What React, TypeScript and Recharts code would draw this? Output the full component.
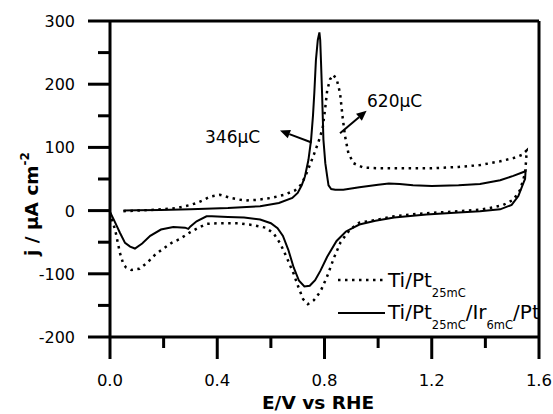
import React from "react";
import {
  LineChart,
  Line,
  XAxis,
  YAxis,
  ReferenceLine,
  Customized,
} from "recharts";

// potential (V vs RHE) and current density (µA cm-2)
// Ti/Pt25mC/Ir6mC/Pt (solid)
const solidAnodicE = [
  0.05, 0.1, 0.19, 0.3, 0.44, 0.56, 0.63, 0.68, 0.7, 0.715, 0.727, 0.74, 0.75,
  0.757, 0.762, 0.768, 0.775, 0.781, 0.784, 0.787, 0.791, 0.796, 0.803, 0.81,
  0.815, 0.825, 0.84, 0.87, 0.93, 1.0, 1.04, 1.08, 1.13, 1.2, 1.3, 1.38, 1.455,
  1.504, 1.542, 1.55,
];
const solidAnodicJ = [
  0, 0.5, 1, 2, 4, 7, 12, 20, 28, 40, 54, 80, 112, 150, 186, 238, 270, 282,
  270, 235, 185, 112, 75, 54, 40, 34, 33, 33, 37, 41, 43, 42, 40, 39, 40, 42,
  48, 55, 61, 63,
];
const solidCathodicE = [
  1.548, 1.542, 1.523, 1.498, 1.455, 1.38, 1.3, 1.18, 1.06, 0.99, 0.93, 0.88,
  0.845, 0.81, 0.785, 0.765, 0.745, 0.725, 0.705, 0.685, 0.665, 0.645, 0.625,
  0.6, 0.56, 0.5, 0.44, 0.38, 0.36, 0.323, 0.3, 0.292, 0.28, 0.236, 0.19, 0.15,
  0.12, 0.093, 0.075, 0.056, 0.037, 0.015, 0.0,
];
const solidCathodicJ = [
  50, 44, 23, 9, 2, -1, -3, -6, -11, -16, -22, -33, -48, -73, -95, -110, -119,
  -120, -111, -90, -62, -40, -28, -20, -14, -11, -10, -9, -9, -17, -25, -29,
  -27, -26, -30, -40, -52, -60, -57, -51, -35, -15, -2,
];

// Ti/Pt25mC (dotted)
const dottedAnodicE = [
  0.05, 0.15, 0.249, 0.3, 0.323, 0.35, 0.373, 0.41, 0.45, 0.5, 0.55, 0.6, 0.65,
  0.69, 0.715, 0.736, 0.758, 0.777, 0.793, 0.802, 0.81, 0.821, 0.833, 0.846,
  0.858, 0.868, 0.877, 0.889, 0.908, 0.945, 1.0, 1.1, 1.2, 1.3, 1.38, 1.455,
  1.504, 1.536, 1.554,
];
const dottedAnodicJ = [
  -1, 1, 4, 9, 12, 17, 22, 25, 20, 16, 17, 20, 25, 32, 42, 62, 86, 108, 130,
  160, 190, 208, 215, 207, 186, 146, 117, 91, 75, 68, 67, 67, 67, 69, 72, 78,
  83, 88, 95,
];
const dottedCathodicE = [
  1.552, 1.548, 1.53, 1.504, 1.467, 1.417, 1.38, 1.3, 1.15, 1.06, 0.99, 0.93,
  0.895, 0.86, 0.835, 0.81, 0.785, 0.76, 0.738, 0.72, 0.7, 0.685, 0.66, 0.635,
  0.61, 0.58, 0.535, 0.48, 0.4, 0.36, 0.33, 0.3, 0.26, 0.23, 0.2, 0.17, 0.14,
  0.11, 0.08, 0.06, 0.05, 0.037, 0.02, 0.006, 0.0,
];
const dottedCathodicJ = [
  80, 59, 33, 17, 9, 4, 1.5, -1, -5, -9, -15, -19, -30, -50, -75, -104, -128,
  -142, -148, -140, -118, -100, -75, -52, -36, -27, -23, -20, -20, -21, -27,
  -34, -45, -51, -60, -69, -82, -92, -94, -90, -85, -67, -32, -12, -4,
];

const xTicks = [0, 0.2, 0.4, 0.6, 0.8, 1.0, 1.2, 1.4, 1.6];
const yTicks = [-200, -150, -100, -50, 0, 50, 100, 150, 200, 250, 300];

const toRows = (e: number[], j: number[]) => e.map((E, i) => ({ E, j: j[i] }));

const solidData = [
  ...toRows(solidAnodicE, solidAnodicJ),
  ...toRows(solidCathodicE, solidCathodicJ),
];
const dottedData = [
  ...toRows(dottedAnodicE, dottedAnodicJ),
  ...toRows(dottedCathodicE, dottedCathodicJ),
];

const FONT = "'DejaVu Sans', sans-serif";
const AXIS_W = 3;

const XTick = ({ x, y, payload }: any) => {
  const v = payload.value as number;
  const major = Math.round(v * 10) % 4 === 0;
  return (
    <g>
      <line x1={x} y1={y} x2={x} y2={y + (major ? 22 : 11)} stroke="#000" strokeOpacity={1} strokeWidth={AXIS_W} />
      {major && (
        <text x={x} y={y + 49} textAnchor="middle" fontSize={16.5} fill="#000" stroke="none" fontFamily={FONT}>
          {v.toFixed(1)}
        </text>
      )}
    </g>
  );
};

const YTick = ({ x, y, payload }: any) => {
  const v = payload.value as number;
  const major = v % 100 === 0;
  return (
    <g>
      <line x1={x - (major ? 22 : 12)} y1={y} x2={x} y2={y} stroke="#000" strokeOpacity={1} strokeWidth={AXIS_W} />
      {major && (
        <text x={x - 35} y={y + 6} textAnchor="end" fontSize={16} fill="#000" stroke="none" fontFamily={FONT}>
          {v}
        </text>
      )}
    </g>
  );
};

// line with a filled arrow head at the (x2, y2) end
const Arrow = (props: any) => {
  const { x1, y1, x2, y2 } = props;
  const a = Math.atan2(y2 - y1, x2 - x1);
  const L = 10;
  const W = 4.5;
  const bx = x2 - L * Math.cos(a);
  const by = y2 - L * Math.sin(a);
  const px = -Math.sin(a) * W;
  const py = Math.cos(a) * W;
  return (
    <g>
      <line x1={x1} y1={y1} x2={bx} y2={by} stroke="#000" strokeWidth={2} />
      <polygon points={`${x2},${y2} ${bx + px},${by + py} ${bx - px},${by - py}`} fill="#000" />
    </g>
  );
};

const Overlay = () => (
  <g fontFamily={FONT} fill="#000">
    {/* axis titles */}
    <text x={318} y={409} textAnchor="middle" fontSize={18.5} fontWeight="bold">
      E/V vs RHE
    </text>
    <text transform="translate(38,204) rotate(-90)" textAnchor="middle" fontSize={18.5} fontWeight="bold">
      j / µA cm
      <tspan fontSize={12} dy={-9}>-2</tspan>
    </text>

    {/* annotations */}
    <text x={205} y={143} fontSize={17}>346µC</text>
    <text x={367} y={107} fontSize={17}>620µC</text>

    {/* legend */}
    <line x1={338} y1={280} x2={385} y2={280} stroke="#000" strokeWidth={2.5} strokeDasharray="2.5 4.5" />
    <text x={388} y={287} fontSize={20}>
      Ti/Pt<tspan fontSize={11.5} dy={10}>25mC</tspan>
    </text>
    <line x1={338} y1={313} x2={385} y2={313} stroke="#000" strokeWidth={2} />
    <text x={388} y={319} fontSize={20}>
      Ti/Pt<tspan fontSize={11.5} dy={10}>25mC</tspan>
      <tspan dy={-10}>/Ir</tspan>
      <tspan fontSize={11.5} dy={10}>6mC</tspan>
      <tspan dy={-10}>/Pt</tspan>
    </text>
  </g>
);

export default function App() {
  return (
    <div style={{ position: "absolute", left: 0, top: 0, background: "#fff" }}>
      <LineChart
        width={553}
        height={414}
        margin={{ top: 21, right: 14, bottom: 0, left: 0 }}
      >
        <XAxis
          dataKey="E"
          type="number"
          domain={[0, 1.6]}
          ticks={xTicks}
          height={77}
          stroke="#000"
          tickSize={0}
          tickMargin={0}
          tickLine={false}
          axisLine={{ stroke: "#000", strokeWidth: AXIS_W }}
          tick={<XTick />}
          allowDataOverflow
        />
        <YAxis
          type="number"
          domain={[-200, 300]}
          ticks={yTicks}
          width={110}
          stroke="#000"
          tickSize={0}
          tickMargin={0}
          tickLine={false}
          axisLine={{ stroke: "#000", strokeWidth: AXIS_W }}
          tick={<YTick />}
          allowDataOverflow
        />
        <ReferenceLine y={300} stroke="#000" strokeOpacity={1} strokeWidth={AXIS_W} />
        <ReferenceLine x={1.6} stroke="#000" strokeOpacity={1} strokeWidth={AXIS_W} />

        <Line
          data={dottedData}
          dataKey="j"
          type="linear"
          stroke="#000"
          strokeWidth={2.5}
          strokeDasharray="2.5 4.5"
          dot={false}
          activeDot={false}
          isAnimationActive={false}
        />
        <Line
          data={solidData}
          dataKey="j"
          type="linear"
          stroke="#000"
          strokeWidth={2}
          dot={false}
          activeDot={false}
          isAnimationActive={false}
        />

        <ReferenceLine
          segment={[
            { x: 0.752, y: 107.7 },
            { x: 0.634, y: 126.6 },
          ]}
          shape={<Arrow />}
        />
        <ReferenceLine
          segment={[
            { x: 0.858, y: 122.5 },
            { x: 0.957, y: 158 },
          ]}
          shape={<Arrow />}
        />
        <Customized component={Overlay} />
      </LineChart>
    </div>
  );
}
